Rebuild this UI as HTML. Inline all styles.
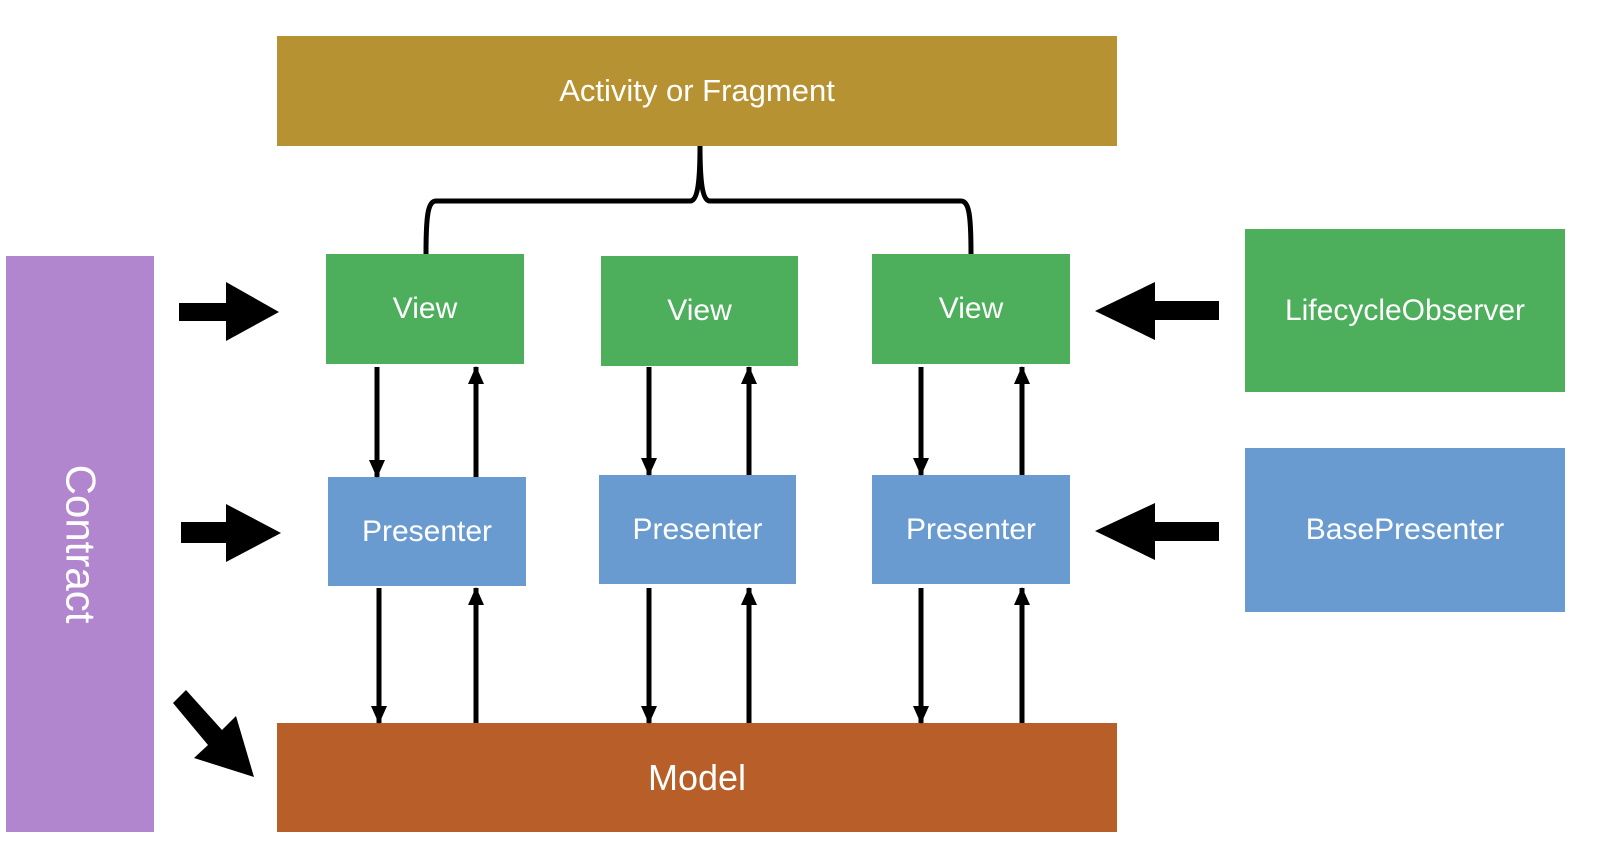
<!DOCTYPE html>
<html><head><meta charset="utf-8"><style>
body{margin:0;width:1606px;height:858px;background:#fff;position:relative;overflow:hidden;font-family:"Liberation Sans",sans-serif}
.b{position:absolute;color:#fff;display:flex;align-items:center;justify-content:center;font-size:30px}
.g{background:#4daf5c}.p{background:#6a9bd0}
</style></head><body>
<div class="b" style="left:277px;top:36px;width:840px;height:110px;background:#b79232;font-size:31px">Activity or Fragment</div>
<div class="b" style="left:6px;top:256px;width:148px;height:576px;background:#b186ce"><span style="transform:rotate(90deg);font-size:42px;white-space:nowrap">Contract</span></div>
<div class="b g" style="left:326px;top:254px;width:198px;height:110px">View</div>
<div class="b g" style="left:601px;top:256px;width:197px;height:110px">View</div>
<div class="b g" style="left:872px;top:254px;width:198px;height:110px">View</div>
<div class="b p" style="left:328px;top:477px;width:198px;height:109px">Presenter</div>
<div class="b p" style="left:599px;top:475px;width:197px;height:109px">Presenter</div>
<div class="b p" style="left:872px;top:475px;width:198px;height:109px">Presenter</div>
<div class="b g" style="left:1245px;top:229px;width:320px;height:163px">LifecycleObserver</div>
<div class="b p" style="left:1245px;top:448px;width:320px;height:164px">BasePresenter</div>
<div class="b" style="left:277px;top:723px;width:840px;height:109px;background:#b85e28;font-size:36px">Model</div>
<svg width="1606" height="858" style="position:absolute;left:0;top:0">
<defs><marker id="a" markerUnits="userSpaceOnUse" markerWidth="18" markerHeight="16" refX="17" refY="8" orient="auto"><path d="M0,0L18,8L0,16z" fill="#000"/></marker></defs>
<path d="M700,146 C700,185 697,201 690,201 L436,201 C428,201 426,215 426,254 M700,146 C700,185 703,201 710,201 L961,201 C969,201 971,215 971,254" stroke="#000" stroke-width="5" fill="none"/>
<g stroke="#000" stroke-width="5" marker-end="url(#a)">
<line x1="377" y1="367" x2="377" y2="477"/><line x1="476" y1="477" x2="476" y2="367"/>
<line x1="649" y1="367" x2="649" y2="475"/><line x1="749" y1="475" x2="749" y2="367"/>
<line x1="921" y1="367" x2="921" y2="475"/><line x1="1022" y1="475" x2="1022" y2="367"/>
<line x1="379" y1="588" x2="379" y2="723"/><line x1="476" y1="723" x2="476" y2="588"/>
<line x1="649" y1="588" x2="649" y2="723"/><line x1="749" y1="723" x2="749" y2="588"/>
<line x1="921" y1="588" x2="921" y2="723"/><line x1="1022" y1="723" x2="1022" y2="588"/>
</g>
<path d="M179,303H226V282L279,312L226,341V321H179z"/>
<path d="M181,522H226V504L281,533L226,562V543H181z"/>
<path d="M1219,301H1155V282L1095,311L1155,340V320H1219z"/>
<path d="M1219,522H1155V503L1095,531L1155,560V541H1219z"/>
<path d="M173,703L186,690L222,730L236,716L254,777L194,758L208,745z"/>
</svg>
</body></html>
